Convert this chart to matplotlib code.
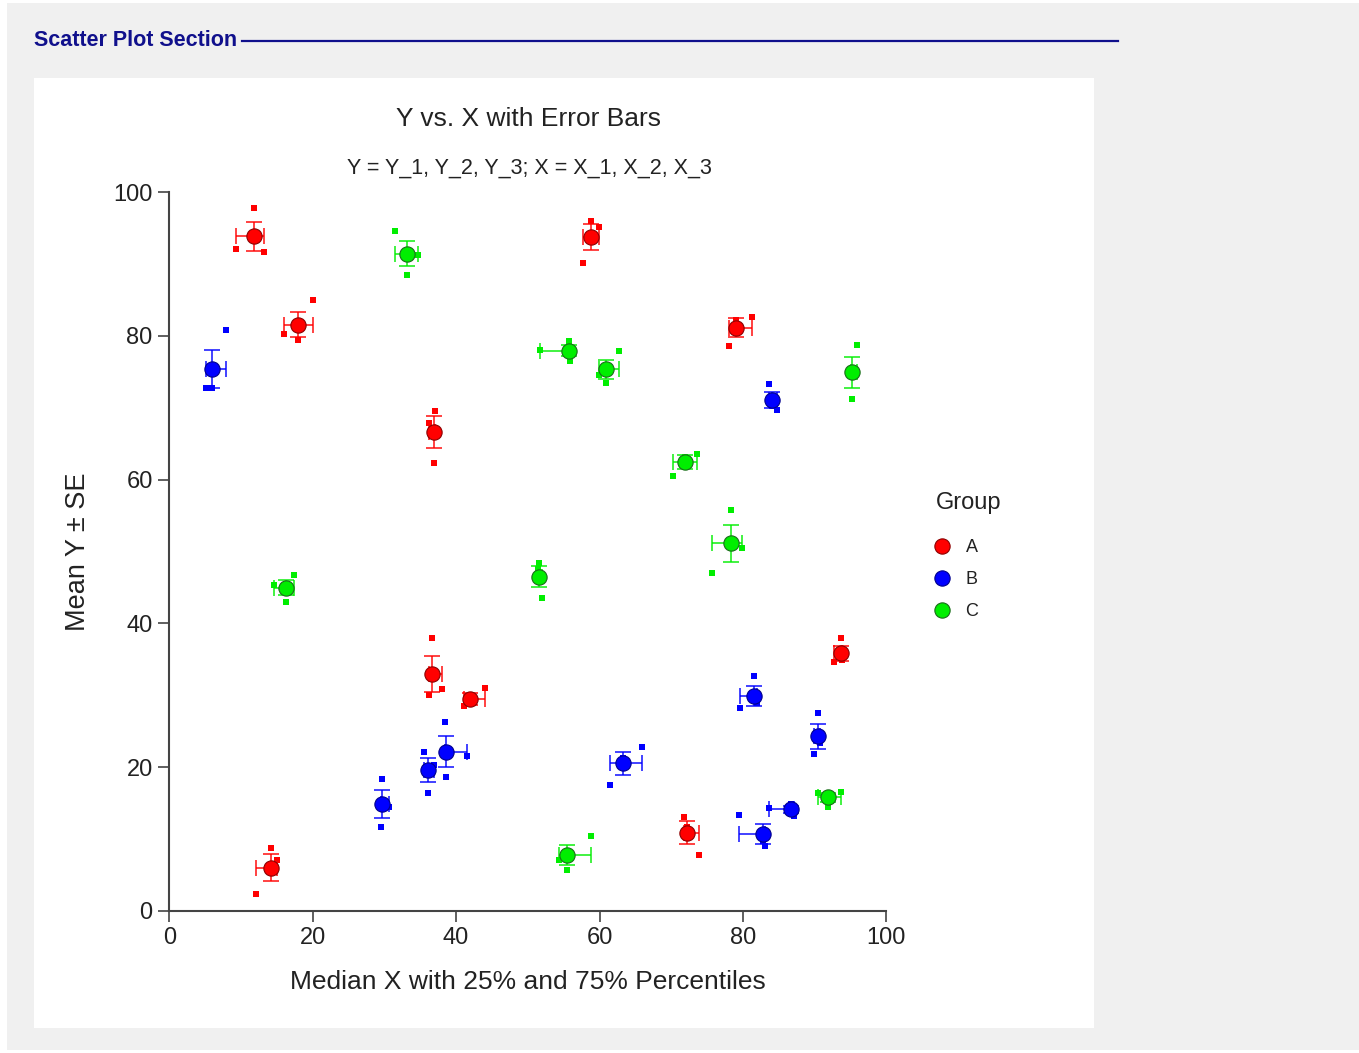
import numpy as np
import matplotlib.pyplot as plt
from matplotlib.patches import Rectangle
from matplotlib.lines import Line2D

plt.rcParams['font.family'] = ['Liberation Sans', 'DejaVu Sans']

# raw points, 3 per row: (X_1, X_2, X_3) and (Y_1, Y_2, Y_3)
groups = ["A", "B", "C"]
colors = ["#ff0000", "#0000ff", "#00ee00"]
edges = ["#8b0000", "#00008b", "#1a6b1a"]

xa = [[11.85, 9.26, 13.25], [20.00, 16.04, 17.99], [58.77, 59.89, 57.74],
      [37.10, 36.18, 36.88], [81.31, 78.02, 79.00], [36.68, 38.03, 36.26],
      [43.99, 41.10, 41.98], [93.64, 92.75, 93.82], [14.23, 15.06, 12.13],
      [71.83, 73.92, 72.25]]
ya = [[97.81, 92.07, 91.69], [85.05, 80.24, 79.44], [96.05, 95.13, 90.20],
      [69.56, 67.93, 62.37], [82.69, 78.61, 82.17], [37.97, 30.83, 29.99],
      [31.01, 28.50, 28.92], [37.97, 34.59, 34.96], [8.70, 7.03, 2.34],
      [13.10, 7.81, 11.70]]

xb = [[5.05, 6.00, 7.87], [83.68, 84.76, 84.10], [29.62, 30.60, 29.48],
      [35.52, 36.96, 36.04], [38.49, 41.52, 38.63], [65.97, 61.42, 63.24],
      [81.55, 79.60, 81.97], [90.52, 89.96, 90.75], [79.50, 83.12, 82.85],
      [83.68, 87.17, 86.71]]
yb = [[72.72, 72.72, 80.79], [73.28, 69.70, 70.30], [18.34, 14.49, 11.62],
      [22.10, 20.29, 16.35], [26.24, 21.59, 18.66], [22.80, 17.51, 21.27],
      [32.68, 28.23, 28.91], [27.57, 21.86, 23.42], [13.33, 9.06, 9.67],
      [14.27, 13.19, 14.92]]

xc = [[31.52, 33.19, 34.73], [51.70, 55.75, 55.89], [62.76, 60.87, 59.97],
      [95.96, 95.17, 95.01], [73.56, 70.25, 71.92], [78.34, 79.92, 75.69],
      [17.43, 14.64, 16.23], [51.60, 51.98, 51.42], [93.64, 91.91, 90.52],
      [58.81, 55.43, 54.39]]
yc = [[94.57, 88.53, 91.32], [78.05, 79.30, 76.52], [77.95, 73.50, 74.64],
      [78.79, 71.23, 74.82], [63.62, 60.47, 63.16], [55.78, 50.54, 47.06],
      [46.69, 45.30, 42.98], [48.45, 43.54, 47.52], [16.58, 14.49, 16.33],
      [10.37, 5.68, 7.13]]

xs = [xa, xb, xc]
ys = [ya, yb, yc]

fig = plt.figure(figsize=(13.59, 10.53), dpi=100)
fig.patch.set_facecolor("white")
W, H = 1359.0, 1053.0

# gray page and white chart panel
fig.patches.append(Rectangle((7 / W, 3 / H), 1 - 7 / W, 1 - 6 / H, transform=fig.transFigure,
                             facecolor="#f0f0f0", edgecolor="none", zorder=-2))
fig.patches.append(Rectangle((34 / W, (H - 1028) / H), 1060 / W, 950 / H, transform=fig.transFigure,
                             facecolor="white", edgecolor="none", zorder=-1))

fig.text(34 / W, 1 - 41 / H, "Scatter Plot Section", color="#10108c", fontsize=15.5,
         fontweight="bold", va="center", ha="left")
fig.add_artist(Line2D([242 / W, 1118 / W], [1 - 41 / H, 1 - 41 / H], color="#10108c", lw=1.6))

ax = fig.add_axes([169.3 / W, (H - 910.8) / H, 717 / W, 718.5 / H])
ax.set_facecolor("none")
ax.set_zorder(2)

for g in range(3):
    x = np.array(xs[g])
    y = np.array(ys[g])
    ax.plot(x.ravel(), y.ravel(), "s", color=colors[g], ms=5, mew=0, zorder=3, clip_on=False)
    med = np.median(x, axis=1)
    lo = np.percentile(x, 25, axis=1, method="weibull")
    hi = np.percentile(x, 75, axis=1, method="weibull")
    mean = y.mean(axis=1)
    se = y.std(axis=1, ddof=1) / np.sqrt(3)
    ax.errorbar(med, mean, yerr=se, xerr=[med - lo, hi - med], fmt="none",
                ecolor=colors[g], elinewidth=1.3, capsize=5.5, capthick=1.3, alpha=0.8, zorder=4)
    ax.plot(med, mean, "o", color=colors[g], mec=edges[g], mew=0.8, ms=11, zorder=5)

ax.set_xlim(0, 100)
ax.set_ylim(0, 100)
ax.set_xticks([0, 20, 40, 60, 80, 100])
ax.set_yticks([0, 20, 40, 60, 80, 100])
for s in ["top", "right"]:
    ax.spines[s].set_visible(False)
for s in ["left", "bottom"]:
    ax.spines[s].set_color("#444444")
    ax.spines[s].set_linewidth(1.5)
ax.tick_params(length=8, width=1.2, color="#444444", labelsize=17, labelcolor="#222222", pad=4)
ax.set_xlabel("Median X with 25% and 75% Percentiles", fontsize=19, color="#222222", labelpad=15)
ax.set_ylabel("Mean Y ± SE", fontsize=19.5, color="#222222", labelpad=16)

fig.text(528 / W, 1 - 119 / H, "Y vs. X with Error Bars", fontsize=19, color="#222222",
         ha="center", va="center")
fig.text(529 / W, 1 - 168 / H, "Y = Y_1, Y_2, Y_3; X = X_1, X_2, X_3", fontsize=15.5,
         color="#222222", ha="center", va="center")

fig.text(936 / W, 1 - 503 / H, "Group", fontsize=17, color="#222222", ha="left", va="center")
handles = [Line2D([], [], ls="none", marker="o", color=colors[g], mec=edges[g], mew=0.8, ms=11)
           for g in range(3)]
leg = fig.legend(handles, groups, loc="upper left",
                 bbox_to_anchor=(915 / W, 1 - 523 / H), frameon=False, fontsize=13,
                 handletextpad=0.7, labelspacing=0.82, handlelength=1.2)
for t in leg.get_texts():
    t.set_color("#222222")

fig.savefig("out.png", dpi=100)
